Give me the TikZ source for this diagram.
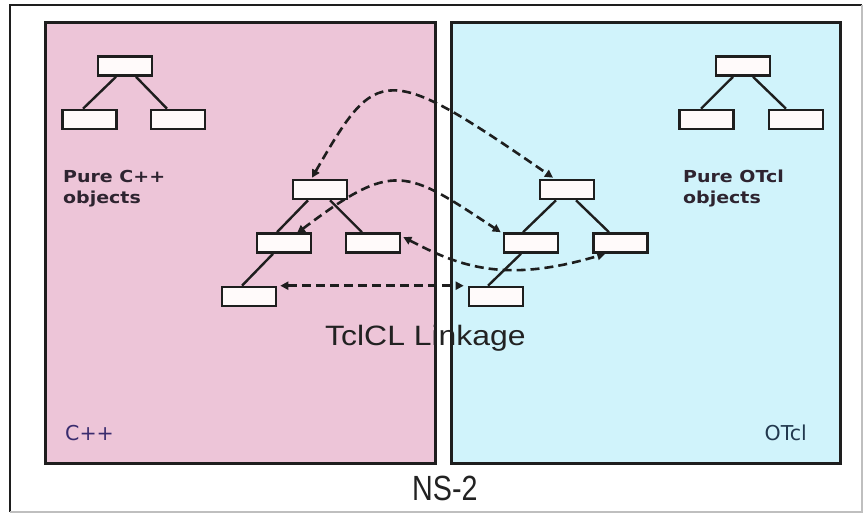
\documentclass[tikz,border=0pt]{standalone}
\usepackage{fontspec}
\setmainfont{Liberation Sans}
\newfontfamily\dvs{DejaVu Sans}
\usetikzlibrary{arrows.meta}
\definecolor{pinkbg}{HTML}{EDC5D8}
\definecolor{cyanbg}{HTML}{D0F3FB}
\definecolor{edge}{HTML}{1E1E1E}
\definecolor{boxfill}{HTML}{FFFAFA}
\definecolor{cpptext}{HTML}{3A2C6E}
\definecolor{otcltext}{HTML}{22384E}
\definecolor{puretext}{HTML}{2E2430}
\definecolor{bigtext}{HTML}{222222}
\begin{document}
\begin{tikzpicture}[x=1pt,y=-1pt,
  obj/.style={draw=edge, line width=2.6pt, fill=boxfill, minimum width=54pt, minimum height=19pt, inner sep=0pt},
  branch/.style={draw=edge, line width=2.4pt},
  link/.style={draw=edge, line width=2.6pt, dash pattern=on 9pt off 5pt,
    {Triangle[length=8pt,width=8pt]}-{Triangle[length=8pt,width=8pt]}},
  panel/.style={draw=edge, line width=3pt},
  puretxt/.style={anchor=north west, inner sep=0pt, text=puretext, align=left,
    font=\dvs\bfseries\fontsize{16.5}{21}\selectfont},
  langtxt/.style={inner sep=0pt, font=\dvs\fontsize{20.5}{22}\selectfont},
]
\useasboundingbox (0,0) rectangle (865,515);
\fill[white] (0,0) rectangle (865,515);
% outer frame
\draw[line width=2.2pt, color=edge] (10,512) -- (10,5) -- (862,5);
\draw[line width=1.2pt, color=gray!50] (862,5) -- (862,512) -- (10,512);
% panels
\draw[panel, fill=pinkbg] (45,22) rectangle (435,463);
\draw[panel, fill=cyanbg] (451,22) rectangle (840,463);

% pure C++ tree
\node[obj] (pc) at (125,66) {};
\node[obj] (pcl) at (89.5,119.5) {};
\node[obj] (pcr) at (178,119.5) {};
\draw[branch] ([xshift=-9pt]pc.south) -- ([xshift=-6.5pt]pcl.north);
\draw[branch] ([xshift=11pt]pc.south) -- ([xshift=-11pt]pcr.north);

% pure OTcl tree
\node[obj] (po) at (743,66) {};
\node[obj] (pol) at (706.5,119.5) {};
\node[obj] (por) at (796,119.5) {};
\draw[branch] ([xshift=-10pt]po.south) -- ([xshift=-5.5pt]pol.north);
\draw[branch] ([xshift=10pt]po.south) -- ([xshift=-10pt]por.north);

% linked C++ tree
\node[obj] (lt) at (320,189.5) {};
\node[obj] (llc) at (284,243) {};
\node[obj] (lrc) at (373,243) {};
\node[obj] (lg) at (249,296.5) {};
\draw[branch] ([xshift=-12pt]lt.south) -- ([xshift=-7pt]llc.north);
\draw[branch] ([xshift=10pt]lt.south) -- ([xshift=-11pt]lrc.north);
\draw[branch] ([xshift=-11pt]llc.south) -- ([xshift=-7pt]lg.north);

% linked OTcl tree
\node[obj] (rt) at (567,189.5) {};
\node[obj] (rlc) at (531,243) {};
\node[obj] (rrc) at (620.5,243) {};
\node[obj] (rg) at (496,296.5) {};
\draw[branch] ([xshift=-11pt]rt.south) -- ([xshift=-8pt]rlc.north);
\draw[branch] ([xshift=9pt]rt.south) -- ([xshift=-11.5pt]rrc.north);
\draw[branch] ([xshift=-10pt]rlc.south) -- ([xshift=-8pt]rg.north);

% dashed linkage arrows
\draw[link] ([xshift=-8pt,yshift=1pt]lt.north) .. controls (377,65) and (384,61) .. ([xshift=-14pt,yshift=1pt]rt.north);
\draw[link] ([xshift=13pt,yshift=-1pt]llc.north) .. controls (394,160) and (405,169) .. ([xshift=-2pt,yshift=0pt]rlc.north west);
\draw[link] ([xshift=2pt,yshift=6pt]lrc.east) .. controls (462,268) and (507,283) .. ([xshift=13pt]rrc.south west);
\draw[link] ([xshift=3pt]lg.north east) -- ([xshift=-4pt]rg.north west);

% texts
\node[puretxt] (tpc) at (63,170) {\scalebox{1.15}[1]{Pure C++}\\\scalebox{1.15}[1]{objects}};
\node[puretxt] (tpo) at (683,170) {\scalebox{1.15}[1]{Pure OTcl}\\\scalebox{1.15}[1]{objects}};
\node[anchor=base west, inner sep=0pt, text=bigtext, font=\fontsize{28}{30}\selectfont] (tclcl) at (325,345) {\scalebox{1.14}[1]{TclCL Linkage}};
\node[anchor=base west, inner sep=0pt, text=bigtext, font=\fontsize{35}{36}\selectfont] (ns2) at (412,500) {\scalebox{0.82}[1]{NS-2}};
\node[langtxt, anchor=base west, text=cpptext] (lcpp) at (65,440) {C++};
\node[langtxt, anchor=base east, text=otcltext] (lotcl) at (807,440) {OTcl};
\end{tikzpicture}
\end{document}
